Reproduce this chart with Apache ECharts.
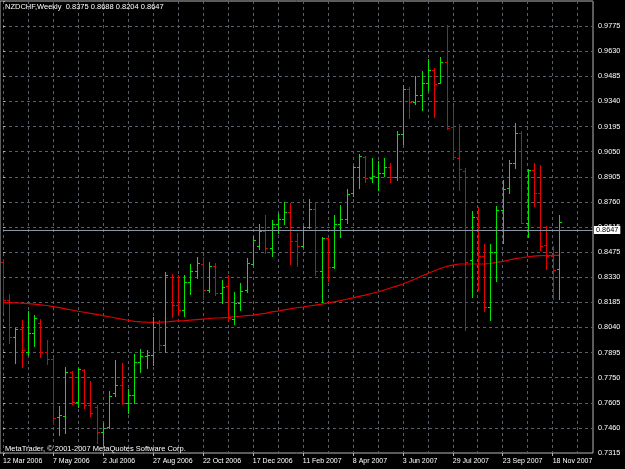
<!DOCTYPE html>
<html>
<head>
<meta charset="utf-8">
<script src="https://cdn.jsdelivr.net/npm/echarts@6/dist/echarts.min.js"></script>
<style>
html,body{margin:0;padding:0;background:#000;}
#chart{width:625px;height:469px;}
</style>
</head>
<body>
<div id="chart"></div>
<script>
const symbolName = 'NZDCHF,Weekly';
const copyrightText = 'MetaTrader, \u00a9 2001-2007 MetaQuotes Software Corp.';
const xTickLabels = ['12 Mar 2006','7 May 2006','2 Jul 2006','27 Aug 2006','22 Oct 2006','17 Dec 2006','11 Feb 2007','8 Apr 2007','3 Jun 2007','29 Jul 2007','23 Sep 2007','18 Nov 2007'];
const yTickLabels = ['0.7315','0.7460','0.7605','0.7750','0.7895','0.8040','0.8185','0.8330','0.8475','0.8615','0.8760','0.8905','0.9050','0.9195','0.9340','0.9485','0.9630','0.9775'];

const opens = [0.8416,0.8197,0.7984,0.8030,0.7897,0.8007,0.8064,0.7897,0.7857,0.7523,
0.7528,0.7782,0.7609,0.7793,0.7592,0.7580,0.7436,0.7465,0.7661,0.7707,
0.7603,0.7649,0.7839,0.7874,0.7880,0.8064,0.7937,0.8329,0.8168,0.8139,
0.8300,0.8364,0.8404,0.8254,0.8392,0.8237,0.8277,0.8087,0.8179,0.8254,
0.8404,0.8508,0.8594,0.8496,0.8634,0.8663,0.8704,0.8537,0.8508,0.8617,
0.8721,0.8364,0.8554,0.8387,0.8634,0.8663,0.8813,0.8963,0.9020,0.8899,
0.8905,0.8928,0.8963,0.8905,0.9153,0.9412,0.9337,0.9377,0.9447,0.9521,
0.9447,0.9568,0.9193,0.9015,0.8940,0.8427,0.8675,0.8450,0.8156,0.8473,
0.8715,0.8842,0.8986,0.9159,0.8640,0.8946,0.8813,0.8514,0.8450,0.8375];
const highs = [0.8433,0.8231,0.8035,0.8081,0.8133,0.8110,0.8087,0.7966,0.7868,0.7586,
0.7811,0.7788,0.7805,0.7799,0.7730,0.7592,0.7488,0.7672,0.7851,0.7834,
0.7684,0.7886,0.7914,0.7909,0.8099,0.8081,0.8358,0.8346,0.8341,0.8341,
0.8404,0.8444,0.8444,0.8416,0.8410,0.8312,0.8341,0.8243,0.8295,0.8439,
0.8565,0.8634,0.8686,0.8658,0.8698,0.8761,0.8755,0.8583,0.8623,0.8778,
0.8761,0.8560,0.8560,0.8686,0.8744,0.8836,0.8969,0.9038,0.9026,0.9015,
0.8997,0.9015,0.8986,0.9170,0.9435,0.9424,0.9487,0.9516,0.9585,0.9533,
0.9596,0.9781,0.9314,0.9210,0.8957,0.8709,0.8732,0.8519,0.8519,0.8738,
0.8888,0.9003,0.9216,0.9170,0.8950,0.8986,0.8974,0.8623,0.8508,0.8688];
const lows = [0.8128,0.7949,0.7834,0.7811,0.7880,0.7932,0.7868,0.7828,0.7482,0.7419,
0.7430,0.7598,0.7580,0.7575,0.7528,0.7373,0.7361,0.7459,0.7644,0.7598,
0.7546,0.7603,0.7782,0.7805,0.7822,0.7909,0.7897,0.8099,0.8110,0.8105,
0.8231,0.8323,0.8202,0.8243,0.8226,0.8179,0.8081,0.8058,0.8139,0.8243,
0.8398,0.8490,0.8467,0.8450,0.8583,0.8634,0.8404,0.8392,0.8502,0.8611,
0.8341,0.8185,0.8306,0.8381,0.8560,0.8640,0.8796,0.8842,0.8876,0.8876,
0.8830,0.8911,0.8876,0.8888,0.9095,0.9245,0.9326,0.9291,0.9406,0.9251,
0.9447,0.9182,0.9015,0.8830,0.8024,0.8214,0.8254,0.8133,0.8081,0.8306,
0.8525,0.8813,0.8957,0.8638,0.8560,0.8738,0.8485,0.8375,0.8202,0.8204];
const closes = [0.8197,0.7984,0.8030,0.7909,0.8007,0.8093,0.7897,0.7857,0.7517,0.7534,
0.7782,0.7609,0.7799,0.7592,0.7546,0.7436,0.7459,0.7644,0.7707,0.7603,
0.7649,0.7839,0.7874,0.7880,0.8041,0.7937,0.8341,0.8168,0.8139,0.8300,
0.8364,0.8410,0.8254,0.8392,0.8237,0.8272,0.8093,0.8179,0.8249,0.8410,
0.8542,0.8594,0.8496,0.8634,0.8663,0.8704,0.8537,0.8508,0.8617,0.8721,
0.8364,0.8554,0.8387,0.8634,0.8663,0.8807,0.8963,0.9026,0.8899,0.8911,
0.8928,0.8963,0.8905,0.9153,0.9412,0.9337,0.9377,0.9447,0.9521,0.9441,
0.9568,0.9187,0.9020,0.8951,0.8416,0.8675,0.8450,0.8156,0.8473,0.8715,
0.8836,0.8986,0.9159,0.8642,0.8946,0.8813,0.8508,0.8450,0.8372,0.8647];
const maValues = [0.8182,0.8181,0.8180,0.8179,0.8176,0.8173,0.8169,0.8165,0.8159,0.8153,
0.8146,0.8139,0.8132,0.8126,0.8120,0.8114,0.8107,0.8100,0.8093,0.8086,
0.8080,0.8074,0.8071,0.8069,0.8068,0.8069,0.8070,0.8073,0.8076,0.8078,
0.8081,0.8084,0.8087,0.8090,0.8093,0.8094,0.8096,0.8100,0.8103,0.8107,
0.8110,0.8115,0.8120,0.8128,0.8133,0.8140,0.8146,0.8152,0.8156,0.8162,
0.8167,0.8173,0.8180,0.8186,0.8193,0.8201,0.8209,0.8218,0.8225,0.8234,
0.8243,0.8254,0.8266,0.8277,0.8289,0.8303,0.8318,0.8335,0.8349,0.8364,
0.8378,0.8390,0.8398,0.8404,0.8404,0.8404,0.8404,0.8405,0.8407,0.8413,
0.8419,0.8427,0.8435,0.8440,0.8446,0.8450,0.8452,0.8453,0.8454,0.8454];

const FONT = 'Liberation Sans';
const UP = '#00e600', DOWN = '#e60000';
const GRIDC = '#55606c';
const last = closes.length - 1;
const lastPrice = closes[last];
const titleText = symbolName + '  ' + [opens[last], highs[last], lows[last], closes[last]].map(v => v.toFixed(4)).join(' ');

const ohlc = opens.map((o, i) => [i, o, highs[i], lows[i], closes[i]]);
const maData = maValues.map((v, i) => [i, v]);

const XMAX = 94.45;
const chart = echarts.init(document.getElementById('chart'), null, {renderer: 'canvas'});
chart.setOption({
  backgroundColor: '#000000',
  animation: false,
  title: [
    {text: titleText, left: 5, top: 3, padding: 0, textStyle: {color: '#ffffff', fontSize: 7.5, fontWeight: 'normal', fontFamily: FONT}},
    {text: copyrightText, left: 5, top: 445, padding: 0, textStyle: {color: '#ffffff', fontSize: 7.5, fontWeight: 'normal', fontFamily: FONT}}
  ],
  grid: [
    {left: 2.7, right: 32, top: 1, bottom: 16, show: false},
    {left: 0, right: 32, top: 1, bottom: 16, show: true, borderColor: '#b4b4b4', borderWidth: 1, backgroundColor: 'transparent'}
  ],
  xAxis: [
    {type: 'value', gridIndex: 0, min: 0, max: XMAX, interval: 4,
     axisLine: {show: false}, axisTick: {show: false}, axisLabel: {show: false},
     splitLine: {show: true, lineStyle: {color: GRIDC, type: [3, 3], width: 1}}},
    {type: 'value', gridIndex: 0, min: 0, max: XMAX, interval: 8, position: 'bottom',
     axisLine: {show: false},
     axisTick: {show: true, length: 3, lineStyle: {color: '#b4b4b4'}},
     splitLine: {show: false},
     axisLabel: {show: true, color: '#ffffff', fontSize: 7, fontFamily: FONT, align: 'left', margin: 5,
       showMaxLabel: false,
       formatter: v => (v % 8 === 0 && xTickLabels[v / 8]) ? xTickLabels[v / 8] : ''}},
    {type: 'value', gridIndex: 1, show: false, min: 0, max: 1}
  ],
  yAxis: [
    {type: 'value', gridIndex: 0, min: 0.7315, max: 0.99197, show: false, position: 'right'},
    {type: 'value', gridIndex: 0, min: 0, max: 18, interval: 1, position: 'right',
     axisLine: {show: false},
     axisTick: {show: true, length: 2, lineStyle: {color: '#b4b4b4'}},
     splitLine: {show: true, lineStyle: {color: GRIDC, type: [3, 3], width: 1}},
     axisLabel: {show: true, color: '#ffffff', fontSize: 7.3, fontFamily: FONT, margin: 5,
       formatter: v => yTickLabels[v] !== undefined ? yTickLabels[v] : ''}},
    {type: 'value', gridIndex: 1, show: false, min: 0, max: 1}
  ],
  series: [
    {
      type: 'line', name: 'MA', xAxisIndex: 0, yAxisIndex: 0, data: maData,
      showSymbol: false, symbol: 'none', lineStyle: {color: '#e00000', width: 1.2}, z: 3,
      emphasis: {disabled: true},
      markLine: {
        silent: true, symbol: 'none',
        lineStyle: {color: '#8a97a6', width: 1, type: 'solid'},
        label: {show: true, position: 'end', distance: 1, formatter: lastPrice.toFixed(4),
          color: '#000000', backgroundColor: '#ffffff', borderColor: '#ffffff', padding: [1, 2, 0, 2],
          fontSize: 7.3, fontFamily: FONT},
        data: [{yAxis: lastPrice}]
      }
    },
    {
      type: 'custom', name: 'NZDCHF', xAxisIndex: 0, yAxisIndex: 0, data: ohlc,
      encode: {x: 0, y: [1, 2, 3, 4]}, clip: false, z: 4,
      emphasis: {disabled: true},
      renderItem: function (params, api) {
        const i = api.value(0);
        const o = api.value(1), h = api.value(2), l = api.value(3), c = api.value(4);
        const pH = api.coord([i, h]), pL = api.coord([i, l]);
        const pO = api.coord([i, o]), pC = api.coord([i, c]);
        const color = c >= o ? UP : DOWN;
        const x = Math.round(pH[0]);
        const yh = Math.round(pH[1]), yl = Math.round(pL[1]);
        const yo = Math.round(pO[1]), yc = Math.round(pC[1]);
        return {type: 'group', children: [
          {type: 'rect', shape: {x: x, y: yh, width: 1, height: Math.max(1, yl - yh + 1)},
           style: {fill: color, stroke: null}},
          {type: 'rect', shape: {x: x - 2, y: yo, width: 2, height: 1},
           style: {fill: color, stroke: null}},
          {type: 'rect', shape: {x: x + 1, y: yc, width: 2, height: 1},
           style: {fill: color, stroke: null}}
        ]};
      }
    }
  ]
});
</script>
</body>
</html>
